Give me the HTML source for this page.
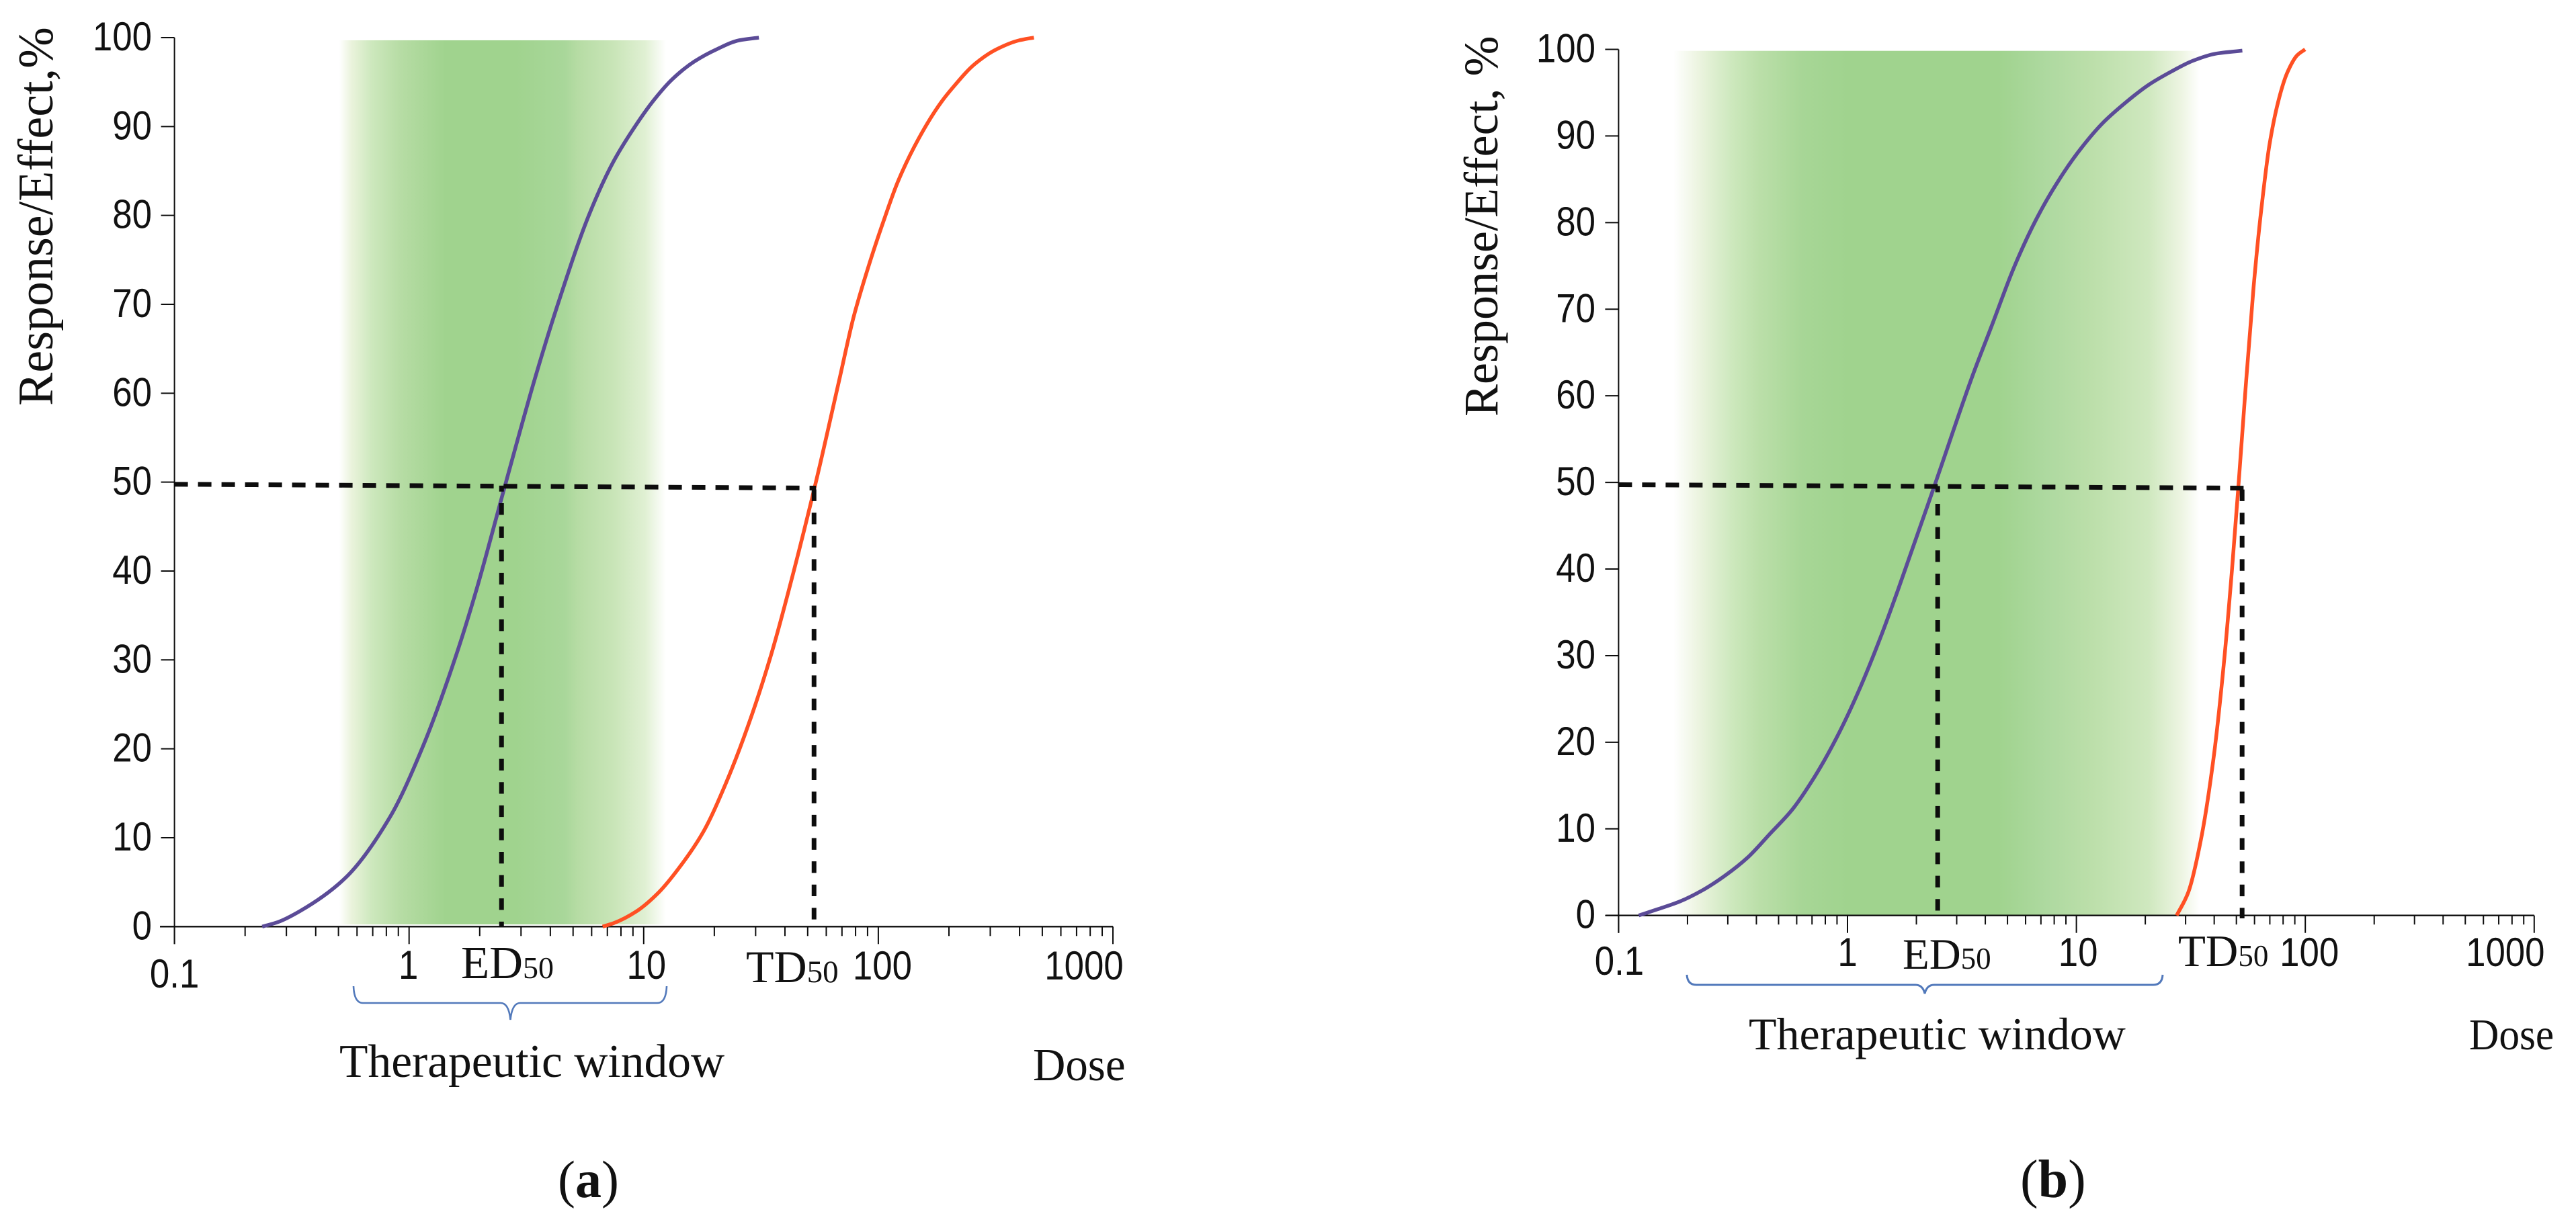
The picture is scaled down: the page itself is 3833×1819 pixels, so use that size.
<!DOCTYPE html>
<html lang="en">
<head>
<meta charset="utf-8">
<title>Therapeutic window dose-response curves</title>
<style>
html,body{margin:0;padding:0;background:#fff;}
svg{display:block;}
.sans{font-family:"Liberation Sans",sans-serif;fill:#111;}
.serif{font-family:"Liberation Serif",serif;fill:#111;}
</style>
</head>
<body>
<svg id="chart" xmlns="http://www.w3.org/2000/svg" width="3833" height="1819" viewBox="0 0 3833 1819">
  <defs>
    <linearGradient id="bandA" x1="0" x2="1" y1="0" y2="0">
      <stop offset="0" stop-color="#ffffff"/><stop offset=".037" stop-color="#eaf3dc"/><stop offset=".099" stop-color="#cde8bd"/>
      <stop offset=".189" stop-color="#b6dca4"/><stop offset=".325" stop-color="#a0d38e"/><stop offset=".539" stop-color="#a0d38e"/>
      <stop offset=".69" stop-color="#a9d79a"/><stop offset=".73" stop-color="#b6dca4"/><stop offset=".84" stop-color="#c9e5b8"/>
      <stop offset=".936" stop-color="#e0f0d3"/><stop offset="1" stop-color="#ffffff"/>
    </linearGradient>
    <linearGradient id="bandB" x1="0" x2="1" y1="0" y2="0">
      <stop offset="0" stop-color="#ffffff"/><stop offset=".047" stop-color="#ecf4e0"/><stop offset=".111" stop-color="#cde8bd"/>
      <stop offset=".162" stop-color="#bbdfa9"/><stop offset=".246" stop-color="#a7d696"/><stop offset=".332" stop-color="#a0d38e"/>
      <stop offset=".617" stop-color="#a0d38e"/><stop offset=".711" stop-color="#aed9a0"/><stop offset=".796" stop-color="#bcdfaa"/>
      <stop offset=".903" stop-color="#cfe8bf"/><stop offset=".967" stop-color="#eef5e3"/><stop offset="1" stop-color="#ffffff"/>
    </linearGradient>
  </defs>
  <g id="panel-a"></g>
  <g id="panel-b"></g>

  <text class="serif" font-size="74" transform="translate(78,604) rotate(-90)">Response/Effect,%</text>
  <text class="serif" x="686" y="1456" font-size="69">ED<tspan font-size="46">50</tspan></text>
  <text class="serif" x="1110" y="1462" font-size="68">TD<tspan font-size="47">50</tspan></text>
  <path d="M526,1468 Q527,1493 540,1493 L745,1493 Q757,1493 759.5,1518 Q762,1493 774,1493 L978,1493 Q991,1493 992,1468" fill="none" stroke="#5279bb" stroke-width="2.6"/>
  <text class="serif" x="505" y="1603" font-size="69.5">Therapeutic window</text>
  <text class="serif" font-size="69" transform="translate(1537,1608) scale(.97,1)">Dose</text>
  <text class="serif" x="830" y="1782" font-size="78">(<tspan font-weight="bold">a</tspan>)</text>

  <text class="serif" font-size="72" transform="translate(2228,620) rotate(-90)">Response/Effect, %</text>
  <text class="serif" x="2831" y="1442" font-size="65">ED<tspan font-size="45">50</tspan></text>
  <text class="serif" x="3241" y="1438" font-size="67">TD<tspan font-size="45">50</tspan></text>
  <path d="M2510,1451 Q2511,1466 2524,1466 L2850,1466 Q2861,1466 2864,1479 Q2867,1466 2878,1466 L3204,1466 Q3217,1466 3218,1451" fill="none" stroke="#5279bb" stroke-width="3"/>
  <text class="serif" x="2602" y="1562" font-size="68">Therapeutic window</text>
  <text class="serif" font-size="66" transform="translate(3674,1562) scale(.93,1)">Dose</text>
  <text class="serif" x="3006" y="1782" font-size="80">(<tspan font-weight="bold">b</tspan>)</text>
</svg>
<script>
// ---- data ----
const yTickValues = [0, 10, 20, 30, 40, 50, 60, 70, 80, 90, 100];
const xTickLabels = ['0.1', '1', '10', '100', '1000'];
const xTickLogDose = [-1, 0, 1, 2, 3];
const minorMultiples = [2, 3, 4, 5, 6, 7, 8, 9];

const effectLogDoseA = [-0.626,-0.560,-0.464,-0.273,-0.082,0.061,0.204,0.285,0.413,0.539,0.634,0.766,0.872,0.978,1.044,1.121,1.215,1.312,1.407,1.491];
const effectResponseA = [0,0.5,1.76,5.44,12.3,20.4,30.8,37.7,50,61.9,70,80,86.1,90.6,93,95.3,97.3,98.7,99.7,100];
const toxicLogDoseA = [0.825,0.873,0.968,1.064,1.159,1.255,1.350,1.445,1.541,1.617,1.734,1.837,1.894,1.961,2.028,2.085,2.171,2.267,2.315,2.410,2.505,2.601,2.663];
const toxicResponseA = [0,0.4,1.7,3.85,6.9,10.7,16.1,22.6,30.4,37.7,50,61.9,68.5,74.5,79.8,83.9,88.6,92.7,94.3,97,98.7,99.7,100];

const effectLogDoseB = [-0.912,-0.829,-0.731,-0.633,-0.535,-0.437,-0.340,-0.242,-0.144,-0.046,0.052,0.150,0.218,0.385,0.546,0.629,0.727,0.825,0.923,1.021,1.119,1.217,1.315,1.412,1.510,1.608,1.725];
const effectResponseB = [0,0.72,1.63,2.92,4.6,6.67,9.39,12.2,16,20.6,26.1,32.5,37.4,50,62.3,68,74.8,80.4,84.9,88.6,91.6,93.9,95.9,97.4,98.7,99.5,99.85];
const toxicLogDoseB = [1.438,1.489,1.543,1.597,1.644,1.680,1.709,1.738,1.774,1.804,1.843,1.882,1.921,1.964,1.999];
const toxicResponseB = [0,2.7,8.6,17.7,29,40,50,60.5,72.5,80.6,88.9,94,97.3,99.3,100];

const windowRangeA = [-0.297, 1.095];
const windowResponseA = [0.25, 99.7];
const windowRangeB = [-0.760, 1.538];
const windowResponseB = [0.05, 99.83];

const ed50LogDoseA = [0.394];
const td50LogDoseA = [1.726];
const guideResponseA = [49.76, 49.33];
const ed50LogDoseB = [0.394];
const td50LogDoseB = [1.724];
const guideResponseB = [49.74, 49.34];

// ---- panel geometry (axis functions use these) ----
const panelA = {
  key: 'a', groupId: 'panel-a', originX: 608.7, decade: 349.1, zeroY: 1379.3, unit: 13.233,
  axisLeft: 238, yLabelRight: 226, minorLen: 14, majorLen: 26, yTickLen: 20,
  xLabelNudge: [0, -1, 4, 6, -43], xLabelBaseline: [1470, 1457, 1457, 1458, 1458],
  band: 'url(#bandA)', dashOffsetEd: 8.4, dashOffsetTd: 0, guideEnd: 1384
};
const panelB = {
  key: 'b', groupId: 'panel-b', originX: 2749, decade: 340.6, zeroY: 1362.7, unit: 12.892,
  axisLeft: 2389, yLabelRight: 2374, minorLen: 13.5, majorLen: 26, yTickLen: 20,
  xLabelNudge: [1, 0, 2.5, 6, -43], xLabelBaseline: [1451, 1438, 1438, 1438, 1438],
  band: 'url(#bandB)', dashOffsetEd: 8, dashOffsetTd: 0, guideEnd: 1367
};

const NS = 'http://www.w3.org/2000/svg';
function mk(tag, attrs, parent) {
  const el = document.createElementNS(NS, tag);
  for (const k in attrs) el.setAttribute(k, attrs[k]);
  parent.appendChild(el);
  return el;
}
function xScale(p, logDose) { return p.originX + logDose * p.decade; }
function yScale(p, response) { return p.zeroY - response * p.unit; }

// Shape-preserving cubic through the read points, so the curve stays smooth.
function smoothPath(pts) {
  const n = pts.length;
  const h = [], s = [], m = [];
  for (let i = 0; i < n - 1; i++) {
    h[i] = (pts[i + 1][0] - pts[i][0]) || 1e-6;
    s[i] = (pts[i + 1][1] - pts[i][1]) / h[i];
  }
  m[0] = s[0];
  m[n - 1] = s[n - 2];
  for (let i = 1; i < n - 1; i++) {
    if (s[i - 1] * s[i] <= 0) { m[i] = 0; continue; }
    const w1 = 2 * h[i] + h[i - 1], w2 = h[i] + 2 * h[i - 1];
    m[i] = (w1 + w2) / (w1 / s[i - 1] + w2 / s[i]);
  }
  let d = 'M' + pts[0][0].toFixed(1) + ',' + pts[0][1].toFixed(1);
  for (let i = 0; i < n - 1; i++) {
    const c1x = pts[i][0] + h[i] / 3, c1y = pts[i][1] + m[i] * h[i] / 3;
    const c2x = pts[i + 1][0] - h[i] / 3, c2y = pts[i + 1][1] - m[i + 1] * h[i] / 3;
    d += 'C' + c1x.toFixed(1) + ',' + c1y.toFixed(1) + ' ' + c2x.toFixed(1) + ',' + c2y.toFixed(1) + ' ' + pts[i + 1][0].toFixed(1) + ',' + pts[i + 1][1].toFixed(1);
  }
  return d;
}

function drawPanel(p, effectX, effectY, toxicX, toxicY, windowX, windowY, edX, tdX, guideY) {
  const g = document.getElementById(p.groupId);
  const INK = '#0d0d0d';

  const band = mk('rect', {
    x: xScale(p, windowX[0]), y: yScale(p, windowY[1]),
    width: xScale(p, windowX[1]) - xScale(p, windowX[0]),
    height: yScale(p, windowY[0]) - yScale(p, windowY[1]),
    fill: p.band
  }, g);
  
  

  const yTop = yScale(p, 100);
  const yAxis = mk('line', { x1: xScale(p, -1), x2: xScale(p, -1), y1: yTop, y2: p.zeroY + p.majorLen, stroke: INK, 'stroke-width': 2 }, g);
  
  

  const xAxis = mk('line', { x1: p.axisLeft, x2: xScale(p, 3), y1: p.zeroY, y2: p.zeroY, stroke: INK, 'stroke-width': 2.4 }, g);
  
  

  yTickValues.forEach(function (v) {
    const tick = mk('line', { x1: xScale(p, -1) - p.yTickLen, x2: xScale(p, -1), y1: yScale(p, v), y2: yScale(p, v), stroke: INK, 'stroke-width': 2 }, g);
    
    
    const label = mk('text', { class: 'sans', 'font-size': 60, 'text-anchor': 'end', transform: 'translate(' + p.yLabelRight + ',' + (yScale(p, v) + 19) + ') scale(.88,1)' }, g);
    label.textContent = String(v);
    
    
  });

  xTickLogDose.forEach(function (l, i) {
    const tick = mk('line', { x1: xScale(p, l), x2: xScale(p, l), y1: p.zeroY, y2: p.zeroY + p.majorLen, stroke: INK, 'stroke-width': 2 }, g);
    
    
    const label = mk('text', { class: 'sans', 'font-size': 60, 'text-anchor': 'middle', transform: 'translate(' + (xScale(p, l) + p.xLabelNudge[i]) + ',' + p.xLabelBaseline[i] + ') scale(.88,1)' }, g);
    label.textContent = xTickLabels[i];
    
    
    if (i < xTickLogDose.length - 1) {
      minorMultiples.forEach(function (m) {
        const lx = xScale(p, l + Math.log10(m));
        const minor = mk('line', { x1: lx, x2: lx, y1: p.zeroY, y2: p.zeroY + p.minorLen, stroke: INK, 'stroke-width': 2 }, g);
        
        
      });
    }
  });

  const effectCurve = mk('path', { d: smoothPath(effectX.map(function (l, i) { return [xScale(p, l), yScale(p, effectY[i])]; })), fill: 'none', stroke: '#5b4b97', 'stroke-width': 5.5 }, g);
  
  

  const toxicCurve = mk('path', { d: smoothPath(toxicX.map(function (l, i) { return [xScale(p, l), yScale(p, toxicY[i])]; })), fill: 'none', stroke: '#ff5023', 'stroke-width': 5.5 }, g);
  
  

  const hGuide = mk('line', { x1: xScale(p, -1), x2: xScale(p, tdX[0]) + 3, y1: yScale(p, guideY[0]), y2: yScale(p, guideY[1]), stroke: INK, 'stroke-width': 7, 'stroke-dasharray': '20 15' }, g);
  
  

  const edGuide = mk('line', { x1: xScale(p, edX[0]), x2: xScale(p, edX[0]), y1: yScale(p, guideY[0]) + 2, y2: p.zeroY + 1, stroke: INK, 'stroke-width': 7, 'stroke-dasharray': '17.3 17.3', 'stroke-dashoffset': p.dashOffsetEd }, g);
  
  

  const tdGuide = mk('line', { x1: xScale(p, tdX[0]), x2: xScale(p, tdX[0]), y1: yScale(p, guideY[1]) + 2, y2: p.guideEnd, stroke: INK, 'stroke-width': 7, 'stroke-dasharray': '17.3 17.3', 'stroke-dashoffset': p.dashOffsetTd }, g);
  
  
}

drawPanel(panelA, effectLogDoseA, effectResponseA, toxicLogDoseA, toxicResponseA, windowRangeA, windowResponseA, ed50LogDoseA, td50LogDoseA, guideResponseA);
drawPanel(panelB, effectLogDoseB, effectResponseB, toxicLogDoseB, toxicResponseB, windowRangeB, windowResponseB, ed50LogDoseB, td50LogDoseB, guideResponseB);
</script>
</body>
</html>
